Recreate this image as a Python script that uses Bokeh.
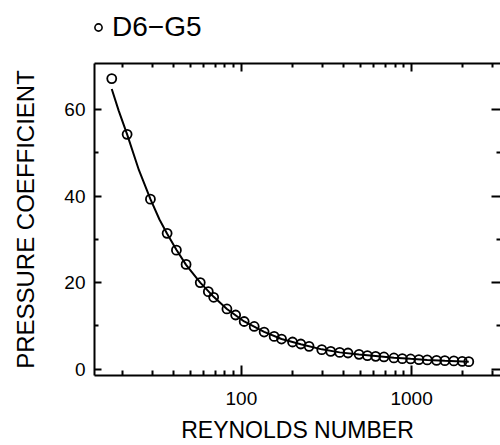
from bokeh.plotting import figure
from bokeh.layouts import column
from bokeh.models import (LogAxis, LinearAxis, FixedTicker, Legend, LegendItem,
                          LogScale, PrintfTickFormatter, Range1d)
from bokeh.embed import file_html
from bokeh.resources import INLINE

# ---- data ----
series_name = "D6−G5"
re_points = [17.3, 21.3, 29.2, 36.6, 41.5, 47.3, 57.3, 63.9, 68.7, 82.2, 92.5,
             103.8, 118.9, 136.0, 155.7, 172.1, 199.7, 223.4, 249.8, 296.6,
             335, 378, 423, 491, 550, 615, 688, 787, 882, 987, 1104, 1236,
             1402, 1568, 1771, 1983, 2168]
cp_points = [67.2, 54.3, 39.3, 31.4, 27.5, 24.2, 20.0, 17.9, 16.6, 13.9, 12.5,
             11.0, 9.85, 8.56, 7.54, 6.94, 6.25, 5.79, 5.24, 4.48,
             4.08, 3.85, 3.71, 3.39, 3.09, 2.93, 2.79, 2.56, 2.40, 2.33, 2.17,
             2.10, 2.00, 1.94, 1.87, 1.78, 1.71]
re_curve = [17.3, 19.0, 21.3, 25.0, 29.2, 33.0, 36.6, 41.5, 47.3, 57.3, 68.7,
            82.2, 103.8, 136.0, 172.1, 223.4, 296.6, 378, 491, 615, 787, 987,
            1236, 1568, 1983, 2168]
cp_curve = [64.8, 59.8, 54.3, 46.0, 39.3, 34.6, 31.3, 27.6, 24.1, 20.0, 16.7,
            13.9, 11.0, 8.6, 6.95, 5.75, 4.55, 3.85, 3.35, 3.0, 2.62, 2.35,
            2.1, 1.92, 1.76, 1.7]

x_major = [100, 1000]
x_minor = [20, 30, 40, 50, 60, 70, 80, 90, 200, 300, 400, 500, 600, 700, 800,
           900, 2000, 3000]
y_major = [0, 20, 40, 60]
y_minor = [10, 30, 50]

FONT = "Liberation Sans"
LEG_H = 50

# ---- legend strip above the plot (its series copy lies outside its ranges,
#      so only the legend entry shows) ----
lf = figure(width=500, height=LEG_H, x_axis_type=None, y_axis_type=None,
            x_range=Range1d(0, 1), y_range=Range1d(1000, 1001),
            output_backend="svg", toolbar_location=None, min_border=0,
            outline_line_color=None)
lf.grid.visible = False
leg_r = lf.scatter(re_points, cp_points, marker="circle", size=9,
                   fill_color=None, line_color="black", line_width=1.6)
legend = Legend(items=[LegendItem(label=series_name, renderers=[leg_r])],
                location=(-5, 7), padding=0, margin=0, spacing=0,
                glyph_width=18, glyph_height=18, label_standoff=5,
                label_text_font=FONT, label_text_font_size="28px",
                label_text_color="black", border_line_color=None,
                background_fill_alpha=0)
lf.add_layout(legend, "center")

# ---- main plot ----
p = figure(width=500, height=445 - LEG_H, x_axis_type=None, y_axis_type=None,
           x_range=(13.7, 3330), y_range=(-1.5, 70.7),
           output_backend="svg", toolbar_location=None,
           min_border_left=94, min_border_right=0, min_border_top=13,
           min_border_bottom=69, outline_line_color=None)
p.x_scale = LogScale()
p.grid.visible = False


def style(ax, major_in, minor_in, labels=True, line=True):
    ax.major_tick_in = major_in
    ax.major_tick_out = 0
    ax.minor_tick_in = minor_in
    ax.minor_tick_out = 0
    ax.major_tick_line_width = 2
    ax.minor_tick_line_width = 2
    ax.major_tick_line_color = "black"
    ax.minor_tick_line_color = "black"
    ax.axis_line_width = 2
    ax.axis_line_color = "black" if line else None
    ax.major_label_text_font = FONT
    ax.major_label_text_font_size = "19px"
    ax.major_label_text_color = "black"
    ax.axis_label_text_font = FONT
    ax.axis_label_text_font_style = "normal"
    ax.axis_label_text_color = "black"
    ax.axis_label_text_font_size = "24px"
    if not labels:
        ax.major_label_text_font_size = "0px"
        ax.major_label_text_alpha = 0


xb = LogAxis(ticker=FixedTicker(ticks=x_major, minor_ticks=x_minor),
             formatter=PrintfTickFormatter(format="%d"),
             axis_label="REYNOLDS NUMBER")
style(xb, 10, 5)
xb.axis_label_text_font_size = "23px"
xb.major_label_standoff = 16
xb.axis_label_standoff = 9
p.add_layout(xb, "below")

xt = LogAxis(ticker=FixedTicker(ticks=x_major, minor_ticks=x_minor))
style(xt, 8, 4, labels=False)
xt.major_label_standoff = 0
p.add_layout(xt, "above")

yl = LinearAxis(ticker=FixedTicker(ticks=y_major, minor_ticks=y_minor),
                axis_label="PRESSURE COEFFICIENT")
style(yl, 7, 4)
yl.major_label_standoff = 9
yl.axis_label_standoff = 22
p.add_layout(yl, "left")

yr = LinearAxis(ticker=FixedTicker(ticks=y_major, minor_ticks=y_minor))
style(yr, 9, 4, labels=False, line=False)
yr.major_label_standoff = 0
p.add_layout(yr, "right")

p.line(re_curve, cp_curve, line_width=2, line_color="black")
p.scatter(re_points, cp_points, marker="circle", size=9,
          fill_color=None, line_color="black", line_width=1.8)

layout = column(lf, p, spacing=0)
open("out.html", "w").write(file_html(layout, INLINE))
